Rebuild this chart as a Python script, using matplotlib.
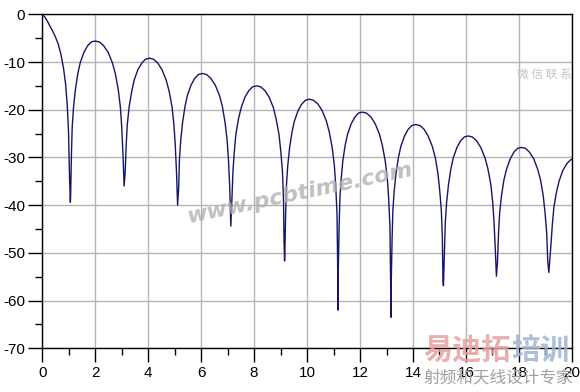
import matplotlib
matplotlib.use("Agg")
import matplotlib.pyplot as plt
from matplotlib.ticker import MultipleLocator

plt.rcParams['axes.unicode_minus'] = False

# curve samples (x, dB)
main_x = [0.0, 0.1, 0.2, 0.3, 0.4, 0.5, 0.6, 0.7, 0.8, 0.88, 0.94, 0.99, 1.03]
main_db = [0.0, -0.6, -1.5, -2.6, -3.6, -4.8, -6.2, -8.3, -11.2, -14.6, -18.8, -24.4, -34.3]

null_x = [1.06, 3.09, 5.11, 7.12, 9.15, 11.17, 13.17, 15.15, 17.15, 19.13]
null_db = [-39.4, -36.0, -40.0, -44.4, -51.7, -62.0, -63.5, -56.9, -54.9, -54.1]

# side lobes, one row per lobe, from left null to right null
lobe_x = [
    [1.07, 1.10, 1.13, 1.18, 1.25, 1.34, 1.43, 1.57, 1.71, 1.85, 1.99,
     2.16, 2.32, 2.49, 2.65, 2.76, 2.87, 2.95, 3.00, 3.05],
    [3.13, 3.17, 3.21, 3.28, 3.38, 3.47, 3.61, 3.76, 3.90, 4.04,
     4.20, 4.36, 4.52, 4.68, 4.79, 4.90, 4.97, 5.02, 5.07],
    [5.15, 5.18, 5.23, 5.30, 5.39, 5.48, 5.62, 5.76, 5.90, 6.04,
     6.20, 6.36, 6.53, 6.69, 6.80, 6.90, 6.98, 7.03, 7.08],
    [7.16, 7.20, 7.25, 7.31, 7.41, 7.51, 7.65, 7.80, 7.94, 8.09,
     8.25, 8.41, 8.57, 8.73, 8.83, 8.94, 9.01, 9.07, 9.11, 9.13],
    [9.16, 9.19, 9.22, 9.27, 9.34, 9.43, 9.52, 9.66, 9.80, 9.94, 10.08,
     10.24, 10.41, 10.57, 10.73, 10.84, 10.95, 11.03, 11.08, 11.13, 11.15],
    [11.18, 11.21, 11.24, 11.29, 11.35, 11.44, 11.53, 11.67, 11.81, 11.94, 12.08,
     12.24, 12.41, 12.57, 12.73, 12.84, 12.95, 13.03, 13.08, 13.13, 13.15],
    [13.18, 13.21, 13.24, 13.29, 13.36, 13.45, 13.54, 13.68, 13.82, 13.96, 14.10,
     14.26, 14.42, 14.57, 14.73, 14.84, 14.94, 15.01, 15.07, 15.11, 15.13],
    [15.19, 15.22, 15.27, 15.34, 15.43, 15.52, 15.66, 15.80, 15.94, 16.08,
     16.24, 16.40, 16.56, 16.72, 16.83, 16.94, 17.01, 17.06, 17.11],
    [17.19, 17.23, 17.27, 17.34, 17.43, 17.53, 17.67, 17.81, 17.95, 18.09,
     18.25, 18.40, 18.56, 18.71, 18.82, 18.92, 18.99, 19.05, 19.09],
]
lobe_db = [
    [-38.2, -29.6, -23.6, -19.5, -15.8, -12.5, -10.2, -8.0, -6.6, -5.8, -5.6,
     -5.8, -6.6, -8.0, -10.2, -12.5, -15.8, -19.5, -23.6, -29.6],
    [-33.2, -27.2, -23.1, -19.4, -16.1, -13.8, -11.6, -10.2, -9.4, -9.2,
     -9.4, -10.2, -11.6, -13.8, -16.1, -19.4, -23.1, -27.2, -33.2],
    [-36.4, -30.4, -26.3, -22.6, -19.3, -17.0, -14.8, -13.4, -12.6, -12.4,
     -12.6, -13.4, -14.8, -17.0, -19.3, -22.6, -26.3, -30.4, -36.4],
    [-39.0, -33.0, -28.9, -25.2, -21.9, -19.6, -17.4, -16.0, -15.2, -15.0,
     -15.2, -16.0, -17.4, -19.6, -21.9, -25.2, -28.9, -33.0, -39.0, -47.6],
    [-50.4, -41.8, -35.8, -31.7, -28.0, -24.7, -22.4, -20.2, -18.8, -18.0, -17.8,
     -18.0, -18.8, -20.2, -22.4, -24.7, -28.0, -31.7, -35.8, -41.8, -50.4],
    [-53.1, -44.5, -38.5, -34.4, -30.7, -27.4, -25.1, -22.9, -21.5, -20.7, -20.5,
     -20.7, -21.5, -22.9, -25.1, -27.4, -30.7, -34.4, -38.5, -44.5, -53.1],
    [-55.7, -47.1, -41.1, -37.0, -33.3, -30.0, -27.7, -25.5, -24.1, -23.3, -23.1,
     -23.3, -24.1, -25.5, -27.7, -30.0, -33.3, -37.0, -41.1, -47.1, -55.7],
    [-49.5, -43.5, -39.4, -35.7, -32.4, -30.1, -27.9, -26.5, -25.7, -25.5,
     -25.7, -26.5, -27.9, -30.1, -32.4, -35.7, -39.4, -43.5, -49.5],
    [-51.9, -45.9, -41.8, -38.1, -34.8, -32.5, -30.3, -28.9, -28.1, -27.9,
     -28.1, -28.9, -30.3, -32.5, -34.8, -38.1, -41.8, -45.9, -51.9],
]
last_x = [19.21, 19.26, 19.32, 19.42, 19.52, 19.66, 19.81, 19.95, 20.0]
last_db = [-48.3, -44.2, -40.5, -37.2, -34.9, -32.7, -31.3, -30.5, -30.4]

# stitch the pieces together
xs = list(main_x)
ys = list(main_db)
for i in range(len(null_x)):
    xs.append(null_x[i])
    ys.append(null_db[i])
    if i < len(lobe_x):
        xs += lobe_x[i]
        ys += lobe_db[i]
xs += last_x
ys += last_db

fig = plt.figure(figsize=(5.8, 3.92), dpi=100)
ax = fig.add_axes([0.0729, 0.1115, 0.9131, 0.852])
ax.plot(xs, ys, color='#161669', linewidth=1.0, zorder=3)

ax.set_xlim(0, 20)
ax.set_ylim(-70, 0)
ax.xaxis.set_major_locator(MultipleLocator(2))
ax.xaxis.set_minor_locator(MultipleLocator(1))
ax.yaxis.set_major_locator(MultipleLocator(10))
ax.yaxis.set_minor_locator(MultipleLocator(5))
ax.grid(True, which='major', color='#b4b4b4', linewidth=1.0)
ax.set_axisbelow(True)
ax.tick_params(which='major', length=10, width=1.0, color='black',
               labelsize=11, pad=2.5)
ax.tick_params(which='minor', length=5, width=1.0, color='black')
for lbl in ax.get_xticklabels() + ax.get_yticklabels():
    lbl.set_family('Liberation Sans')
for sp in ax.spines.values():
    sp.set_color('black')
    sp.set_linewidth(1.0)

# watermarks
ax.text(0.485, 0.465, 'www.pcbtime.com', transform=ax.transAxes,
        fontsize=16, fontweight='bold', style='italic', color='#b0b0b0',
        alpha=0.8, rotation=12, ha='center', va='center',
        family='DejaVu Sans', zorder=4)
cjk = ['Noto Sans CJK SC', 'DejaVu Sans']
fig.text(0.938, 0.809, '微 信 联 系', fontsize=8.5, color='#c4c4c4',
         ha='center', va='center', family=cjk)
fig.text(0.881, 0.107, '易迪拓', fontsize=21, fontweight='bold',
         color='#e8a0a0', alpha=0.85, ha='right', va='center', family=cjk)
fig.text(0.881, 0.107, '培训', fontsize=21, fontweight='bold',
         color='#a0b4d2', alpha=0.85, ha='left', va='center', family=cjk)
fig.text(0.860, 0.036, '射频和天线设计专家', fontsize=12, color='#a0a0a0',
         ha='center', va='center', family=cjk)

fig.savefig('out.png', dpi=100)
